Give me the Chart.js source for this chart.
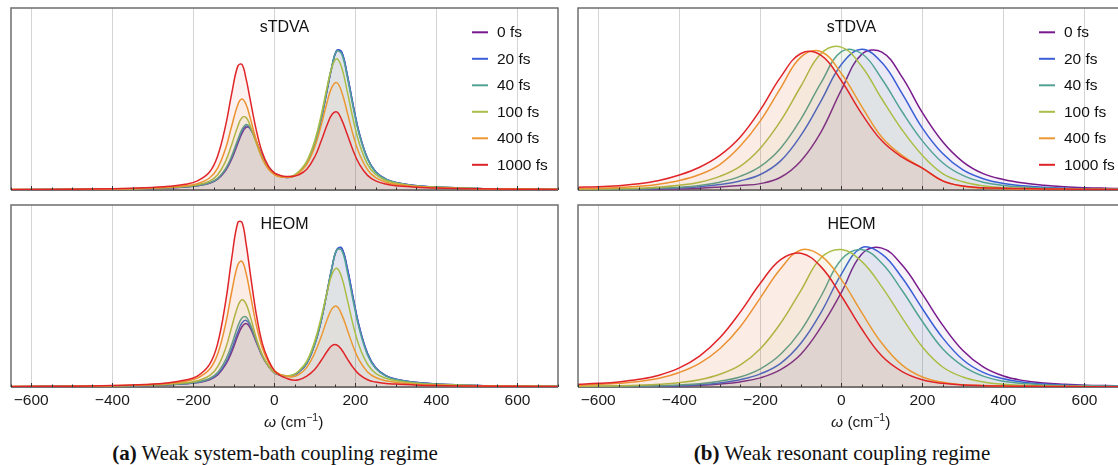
<!DOCTYPE html>
<html>
<head>
<meta charset="utf-8">
<script src="https://cdn.jsdelivr.net/npm/chart.js@4/dist/chart.umd.min.js"></script>
<style>
  html, body { margin: 0; padding: 0; background: #fff; overflow: hidden; }
  #page { position: relative; width: 1118px; height: 465px; overflow: hidden; }
  canvas { position: absolute; }
  .axis-title { position: absolute; font: 15.5px "Liberation Sans", Arial, sans-serif; color: #1a1a1a; white-space: nowrap; line-height: 18px; }
  .axis-title sup { font-size: 10.5px; vertical-align: 6px; line-height: 0; }
  .caption { position: absolute; font: 21px "Liberation Serif", "Times New Roman", serif; color: #111; white-space: nowrap; text-align: center; line-height: 24px; }
</style>
</head>
<body>
<div id="page">
  <canvas id="sbTop" width="560" height="195" style="left:0px;top:0px"></canvas>
  <canvas id="sbBot" width="560" height="245" style="left:0px;top:195px"></canvas>
  <canvas id="resTop" width="560" height="195" style="left:567px;top:0px"></canvas>
  <canvas id="resBot" width="560" height="245" style="left:567px;top:195px"></canvas>
  <div class="axis-title" style="left:264px;top:413px"><i>ω</i> (cm<sup>−1</sup>)</div>
  <div class="axis-title" style="left:831px;top:413px"><i>ω</i> (cm<sup>−1</sup>)</div>
  <div class="caption" style="left:0px;width:550px;top:441px"><b>(a)</b> Weak system-bath coupling regime</div>
  <div class="caption" style="left:542px;width:600px;top:441px"><b>(b)</b> Weak resonant coupling regime</div>
</div>
<script>
// frequency grids (cm^-1)
const omegaWeakSB = [-650, -500, -400, -320, -260, -220, -190, -160, -140, -120, -105, -90, -80, -70, -60, -45, -30, -15, 0, 15,
  30, 45, 60, 80, 100, 115, 130, 142, 154, 166, 180, 195, 210, 230, 250, 275, 300, 340, 400, 500, 600, 700];
const omegaResonant = [-650, -600, -550, -500, -450, -400, -350, -300, -250, -200, -150, -100, -50, 0,
  50, 100, 150, 200, 250, 300, 350, 400, 450, 500, 550, 600, 650, 700];

const delayLabels = ['0 fs', '20 fs', '40 fs', '100 fs', '400 fs', '1000 fs'];
const lineColors = ['rgb(120,26,140)', 'rgb(58,95,214)', 'rgb(82,163,148)', 'rgb(170,190,70)', 'rgb(236,152,50)', 'rgb(224,36,40)'];
const tickValues = [-600, -400, -200, 0, 200, 400, 600];

// (a) weak system-bath coupling, sTDVA
const sbTop0 = [0.2, 0.34, 0.5, 0.8, 1.2, 1.7, 2.3, 3.7, 5.9, 10.8, 17.2, 25.7, 31.1, 34.4, 33.7, 26.9, 18.7, 12.6, 9.1, 7.5, 6.9, 7.4, 9.6, 14.6, 25.2, 38.1, 54.6, 67.6, 76.5, 75.8, 63.1, 45.9, 30.8, 17.3, 10.0, 6.0, 4.1, 2.6, 1.6, 0.8, 0.5, 0.35];
const sbTop20 = [0.2, 0.35, 0.5, 0.8, 1.2, 1.7, 2.35, 3.8, 6.1, 11.3, 18.0, 26.7, 32.1, 35.1, 34.0, 26.8, 18.5, 12.5, 9.0, 7.5, 6.9, 7.4, 9.7, 14.7, 25.4, 38.3, 54.8, 67.8, 76.7, 76.0, 63.3, 46.0, 30.9, 17.3, 10.0, 6.0, 4.1, 2.6, 1.6, 0.8, 0.5, 0.35];
const sbTop40 = [0.2, 0.35, 0.5, 0.8, 1.25, 1.8, 2.4, 4.0, 6.4, 11.9, 18.9, 27.9, 33.3, 36.0, 34.4, 26.7, 18.4, 12.4, 9.0, 7.6, 7.0, 7.5, 9.8, 15.0, 25.8, 38.8, 55.4, 68.2, 76.3, 74.8, 62.0, 44.8, 30.0, 16.8, 9.8, 5.9, 4.0, 2.5, 1.6, 0.8, 0.5, 0.35];
const sbTop100 = [0.22, 0.37, 0.56, 0.85, 1.36, 2.0, 2.9, 4.9, 8.4, 16.0, 25.2, 35.2, 39.7, 39.9, 35.6, 26.0, 17.2, 11.6, 8.6, 7.5, 7.2, 7.7, 10.0, 15.9, 27.4, 40.6, 56.5, 67.5, 72.1, 67.4, 54.1, 38.2, 25.3, 14.1, 8.5, 5.2, 3.7, 2.4, 1.5, 0.8, 0.5, 0.35];
const sbTop400 = [0.23, 0.38, 0.6, 1.0, 1.55, 2.35, 3.5, 6.6, 12.0, 23.1, 35.4, 47.0, 50.0, 47.1, 39.9, 27.7, 17.8, 11.7, 8.5, 7.2, 6.95, 7.3, 9.2, 14.1, 23.9, 35.1, 48.1, 56.5, 59.0, 54.0, 42.6, 29.8, 19.6, 11.1, 6.75, 4.3, 3.1, 2.1, 1.3, 0.7, 0.5, 0.35];
const sbTop1000 = [0.25, 0.43, 0.7, 1.2, 2.0, 3.1, 5.0, 9.9, 18.7, 35.8, 53.4, 68.2, 69.0, 61.3, 50.1, 33.3, 20.7, 13.2, 9.4, 8.0, 7.4, 7.5, 8.3, 11.4, 18.4, 26.6, 35.7, 41.5, 42.9, 38.7, 30.5, 21.3, 14.1, 8.05, 5.05, 3.3, 2.4, 1.7, 1.05, 0.65, 0.45, 0.33];

// (a) weak system-bath coupling, HEOM
const sbBot0 = [0.2, 0.34, 0.5, 0.8, 1.2, 1.75, 2.4, 4.0, 6.6, 12.4, 19.4, 28.3, 33.1, 34.9, 32.6, 24.8, 16.9, 11.5, 7.8, 6.5, 6.0, 6.4, 8.2, 13.0, 23.7, 35.8, 52.0, 65.4, 75.3, 76.3, 65.2, 48.3, 32.7, 18.4, 10.6, 6.2, 4.25, 2.7, 1.65, 0.8, 0.5, 0.35];
const sbBot20 = [0.2, 0.35, 0.5, 0.8, 1.25, 1.8, 2.5, 4.2, 7.1, 13.3, 21.0, 30.3, 35.2, 36.6, 33.8, 25.4, 17.3, 11.6, 7.9, 6.6, 6.1, 6.4, 8.2, 13.0, 23.8, 36.0, 52.2, 65.6, 75.5, 76.5, 65.4, 48.4, 32.8, 18.4, 10.6, 6.2, 4.25, 2.7, 1.65, 0.8, 0.5, 0.35];
const sbBot40 = [0.2, 0.35, 0.52, 0.82, 1.35, 1.9, 2.8, 4.7, 8.0, 15.1, 23.5, 33.5, 37.9, 38.5, 34.7, 25.7, 17.2, 11.6, 7.9, 6.6, 6.1, 6.5, 8.4, 13.3, 23.9, 36.2, 52.3, 65.4, 75.3, 75.2, 63.3, 46.7, 31.5, 17.5, 10.2, 6.0, 4.1, 2.6, 1.6, 0.8, 0.5, 0.35];
const sbBot100 = [0.23, 0.4, 0.6, 1.0, 1.5, 2.3, 3.4, 6.2, 11.2, 21.5, 33.2, 44.5, 47.9, 45.7, 39.2, 27.2, 17.8, 11.7, 8.0, 6.7, 6.2, 6.6, 8.8, 14.2, 25.6, 37.8, 51.9, 61.8, 65.2, 60.4, 48.0, 33.6, 22.1, 12.5, 7.5, 4.8, 3.4, 2.2, 1.35, 0.75, 0.5, 0.35];
const sbBot400 = [0.25, 0.43, 0.72, 1.2, 2.0, 3.15, 4.9, 9.7, 18.1, 35.0, 52.6, 67.3, 69.1, 62.7, 51.7, 34.4, 21.7, 13.7, 9.0, 6.9, 5.9, 5.6, 6.8, 10.8, 18.9, 27.3, 36.9, 42.9, 44.3, 39.9, 31.5, 22.0, 14.5, 8.3, 5.2, 3.4, 2.5, 1.7, 1.1, 0.67, 0.45, 0.33];
const sbBot1000 = [0.27, 0.47, 0.8, 1.36, 2.3, 3.8, 6.0, 12.4, 23.8, 47.2, 71.1, 90.5, 90.5, 79.0, 63.3, 40.5, 24.1, 14.9, 9.0, 6.3, 4.8, 3.8, 4.0, 6.0, 9.8, 14.4, 19.5, 22.7, 23.1, 20.5, 15.5, 10.5, 6.8, 4.0, 2.7, 1.9, 1.6, 1.2, 0.8, 0.5, 0.38, 0.3];

// (b) weak resonant coupling, sTDVA
const resTop0 = [0.1, 0.2, 0.25, 0.3, 0.45, 0.6, 1.0, 1.7, 2.5, 3.5, 7, 16, 32, 55, 74.5, 75.8, 62, 42.5, 26.5, 15.5, 9, 5.8, 3.8, 2.6, 1.8, 1.3, 1.0, 0.8];
const resTop20 = [0.2, 0.3, 0.4, 0.5, 0.8, 1.1, 1.8, 3.0, 5.0, 8.5, 16, 30, 49, 69, 77.3, 70, 53, 34, 20, 11, 6.2, 3.6, 2.3, 1.5, 1.0, 0.8, 0.6, 0.5];
const resTop40 = [0.3, 0.4, 0.5, 0.7, 1.0, 1.5, 2.5, 4.3, 7.5, 13, 23, 39, 59, 76, 75, 61, 43, 27, 15, 8, 4.3, 2.5, 1.6, 1.1, 0.8, 0.6, 0.5, 0.4];
const resTop100 = [0.5, 0.6, 0.8, 1.0, 1.6, 2.6, 4.3, 7.5, 13, 23, 38, 57, 75, 78.5, 68, 50, 33, 19, 9, 4.5, 2.3, 1.3, 0.9, 0.7, 0.55, 0.45, 0.35, 0.3];
const resTop400 = [0.8, 1.0, 1.4, 2.0, 3.2, 5.2, 8.5, 14, 24, 38, 56, 73, 76, 64, 46, 29, 19, 12, 5, 2, 1.0, 0.7, 0.5, 0.4, 0.35, 0.3, 0.25, 0.2];
const resTop1000 = [1.5, 1.8, 2.4, 3.4, 5.2, 8.2, 12.5, 19, 29, 44, 62, 75, 74, 60, 42, 27, 18, 12, 5, 2.2, 1.3, 1.0, 0.8, 0.6, 0.5, 0.4, 0.35, 0.3];

// (b) weak resonant coupling, HEOM
const resBot0 = [0.1, 0.15, 0.2, 0.25, 0.35, 0.5, 0.9, 1.6, 2.8, 5, 9.5, 18, 33, 52, 73, 76.3, 67, 51, 34, 20, 11, 6, 3.5, 2.2, 1.5, 1.0, 0.8, 0.6];
const resBot20 = [0.15, 0.2, 0.27, 0.35, 0.5, 0.7, 1.2, 2.2, 4, 7.2, 13, 24, 41, 62, 76.5, 73, 60, 43, 27, 15, 8, 4.5, 2.6, 1.6, 1.1, 0.8, 0.6, 0.5];
const resBot40 = [0.2, 0.3, 0.4, 0.5, 0.75, 1.1, 1.8, 3.2, 5.5, 10, 18, 31, 50, 70, 75.5, 68, 53, 36, 21, 11.5, 6, 3.2, 1.9, 1.2, 0.8, 0.6, 0.45, 0.35];
const resBot100 = [0.4, 0.5, 0.7, 1.0, 1.5, 2.4, 4.0, 7, 12, 21, 35, 53, 71, 75.5, 69, 55, 38, 22, 11, 5.5, 2.8, 1.5, 0.9, 0.6, 0.45, 0.35, 0.3, 0.25];
const resBot400 = [1.0, 1.4, 2.0, 3.0, 4.8, 8, 13, 21, 33, 49, 65, 75.3, 72, 59, 41, 24, 12, 5.5, 2.6, 1.3, 0.8, 0.5, 0.4, 0.3, 0.25, 0.2, 0.15, 0.12];
const resBot1000 = [1.5, 2.0, 2.8, 4.2, 6.5, 10.5, 17, 27, 41, 57, 70, 73.5, 66, 50, 32, 17, 8.5, 4, 2, 1.1, 0.7, 0.5, 0.4, 0.3, 0.25, 0.2, 0.15, 0.12];

const FONT = '"Liberation Sans", Arial, sans-serif';

// frame, inward ticks, panel title and legend
const panelDecor = {
  id: 'panelDecor',
  beforeDatasetsDraw(chart) {
    const { ctx, chartArea: a } = chart;
    ctx.save();
    ctx.strokeStyle = '#444';
    ctx.lineWidth = 1.5;
    ctx.beginPath();
    ctx.moveTo(a.left, a.bottom);
    ctx.lineTo(a.right, a.bottom);
    ctx.stroke();
    ctx.restore();
  },
  afterDatasetsDraw(chart) {
    const { ctx, chartArea: a } = chart;
    const xs = chart.scales.x;
    ctx.save();
    ctx.strokeStyle = '#6e6e6e';
    ctx.lineWidth = 1.5;
    ctx.beginPath();
    ctx.moveTo(a.left, a.bottom);
    ctx.lineTo(a.left, a.top);
    ctx.lineTo(a.right, a.top);
    ctx.lineTo(a.right, a.bottom);
    ctx.stroke();
    ctx.strokeStyle = '#333';
    ctx.lineWidth = 1;
    for (let v = -650; v <= 700; v += 50) {
      const px = Math.round(xs.getPixelForValue(v)) + 0.5;
      const len = v % 200 === 0 ? 4 : 2.5;
      ctx.beginPath();
      ctx.moveTo(px, a.bottom);
      ctx.lineTo(px, a.bottom - len);
      ctx.stroke();
    }
    ctx.restore();
  },
  afterDraw(chart, args, opts) {
    const { ctx, chartArea: a } = chart;
    ctx.save();
    ctx.fillStyle = '#111';
    ctx.font = '16px ' + FONT;
    ctx.textAlign = 'center';
    ctx.textBaseline = 'middle';
    ctx.fillText(opts.title, (a.left + a.right) / 2, a.top + 19.5);
    if (opts.legend) {
      ctx.textAlign = 'left';
      ctx.font = '15.5px ' + FONT;
      chart.data.datasets.forEach((ds, i) => {
        const y = a.top + 24.3 + i * 26.5;
        ctx.strokeStyle = ds.borderColor;
        ctx.lineWidth = 2;
        ctx.beginPath();
        ctx.moveTo(a.left + 461, y);
        ctx.lineTo(a.left + 477, y);
        ctx.stroke();
        ctx.fillStyle = '#111';
        ctx.fillText(ds.label, a.left + 486, y + 0.5);
      });
    }
    ctx.restore();
  }
};

function makeDatasets(omega, series) {
  return series.map((vals, i) => ({
    label: delayLabels[i],
    data: vals.map((v, k) => ({ x: omega[k], y: v })),
    borderColor: lineColors[i],
    backgroundColor: lineColors[i].replace('rgb(', 'rgba(').replace(')', ',0.06)'),
    fill: 'origin',
    borderWidth: 1.5,
    pointRadius: 0,
    tension: 0.4,
    order: series.length - 1 - i
  }));
}

function makePanel(id, omega, series, title, isBottom) {
  new Chart(document.getElementById(id), {
    type: 'line',
    data: { datasets: makeDatasets(omega, series) },
    options: {
      responsive: false,
      animation: false,
      events: [],
      layout: { padding: { left: 11, right: 2, top: isBottom ? 10 : 8, bottom: isBottom ? 0 : 5 } },
      plugins: {
        legend: { display: false },
        tooltip: { enabled: false },
        panelDecor: { title: title, legend: !isBottom }
      },
      scales: {
        x: {
          type: 'linear',
          min: -650,
          max: 700,
          afterBuildTicks: s => { s.ticks = tickValues.map(v => ({ value: v })); },
          afterFit: s => { s.height = isBottom ? 53 : 0; },
          grid: { color: '#d4d4d4', lineWidth: 1, drawTicks: false },
          border: { display: false },
          ticks: {
            display: isBottom,
            padding: 4,
            autoSkip: false,
            maxRotation: 0,
            color: '#1a1a1a',
            font: { family: FONT, size: 15.5 },
            callback: v => v < 0 ? '\u2212' + Math.abs(v) : String(v)
          }
        },
        y: { display: false, min: 0, max: 100 }
      }
    },
    plugins: [panelDecor]
  });
}

makePanel('sbTop', omegaWeakSB, [sbTop0, sbTop20, sbTop40, sbTop100, sbTop400, sbTop1000], 'sTDVA', false);
makePanel('sbBot', omegaWeakSB, [sbBot0, sbBot20, sbBot40, sbBot100, sbBot400, sbBot1000], 'HEOM', true);
makePanel('resTop', omegaResonant, [resTop0, resTop20, resTop40, resTop100, resTop400, resTop1000], 'sTDVA', false);
makePanel('resBot', omegaResonant, [resBot0, resBot20, resBot40, resBot100, resBot400, resBot1000], 'HEOM', true);
</script>
</body>
</html>
